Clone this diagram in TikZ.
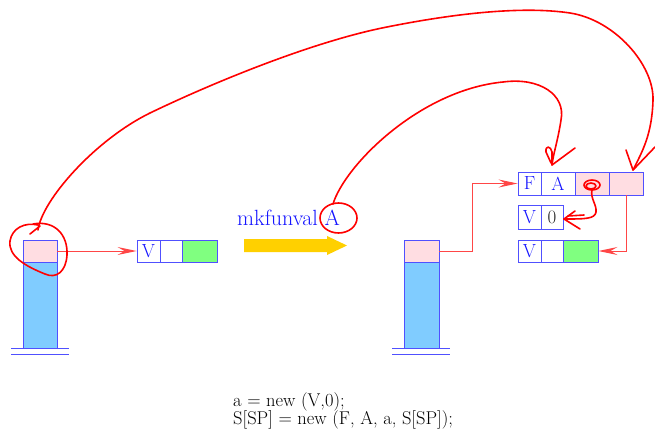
\documentclass[tikz,border=0pt]{standalone}
\usetikzlibrary{arrows.meta}
\definecolor{cellblue}{RGB}{80,80,255}
\definecolor{txtblue}{RGB}{20,20,255}
\definecolor{stackblue}{RGB}{128,204,255}
\definecolor{cellpink}{RGB}{255,221,226}
\definecolor{cellgreen}{RGB}{128,255,128}
\definecolor{conred}{RGB}{255,70,70}
\definecolor{penred}{RGB}{255,0,0}
\definecolor{arrowyellow}{RGB}{255,208,0}
\tikzset{
  cell/.style={draw=cellblue, line width=0.9pt, minimum height=22pt, inner sep=0pt,
    font=\fontsize{19}{19}\selectfont, text=txtblue},
  pinkcell/.style={cell, fill=cellpink},
  greencell/.style={cell, fill=cellgreen},
  stackbody/.style={cell, fill=stackblue},
  baseline/.style={draw=cellblue, line width=0.9pt},
  con/.style={draw=conred, line width=1pt, -{Stealth[length=19pt,width=8pt,inset=7pt]}},
  pen/.style={draw=penred, line width=1.6pt, line cap=round, line join=round},
}
\begin{document}
\begin{tikzpicture}[x=1pt,y=-1pt]
\useasboundingbox (0,0) rectangle (655,442);

% left stack
\node[pinkcell, minimum width=34pt] (lsp) at (40,251) {};
\node[stackbody, minimum width=34pt, minimum height=86pt] (lsb) at (40,305) {};
\draw[baseline] (11,348) -- (69,348);
\draw[baseline] (11,354) -- (69,354);

% left V box
\node[cell, minimum width=23pt] (lV) at (148.5,251) {V};
\node[cell, minimum width=22pt] (lE) at (171,251) {};
\node[greencell, minimum width=35pt] (lG) at (199.5,251) {};

% middle label and yellow arrow
\node[anchor=base west, inner sep=0pt, text=txtblue, font=\fontsize{22}{22}\selectfont] (mk) at (237,225) {mkfunval A};
\fill[arrowyellow] (244,239) -- (327,239) -- (327,236) -- (347,245.5) -- (327,255) -- (327,252) -- (244,252) -- cycle;

% right stack
\node[pinkcell, minimum width=35pt] (rsp) at (421.5,251) {};
\node[stackbody, minimum width=35pt, minimum height=86pt] (rsb) at (421.5,305) {};
\draw[baseline] (392,348) -- (450,348);
\draw[baseline] (392,354) -- (450,354);

% FA box
\node[cell, minimum width=23pt, minimum height=23pt] (F) at (529.5,183.5) {F};
\node[cell, minimum width=34pt, minimum height=23pt] (A) at (558,183.5) {A};
\node[pinkcell, minimum width=34pt, minimum height=23pt] (p1) at (592,183.5) {};
\node[pinkcell, minimum width=34pt, minimum height=23pt] (p2) at (626,183.5) {};

% V0 box
\node[cell, minimum width=23pt, minimum height=24pt] (zV) at (529.5,217) {V};
\node[cell, minimum width=22pt, minimum height=24pt, text=black!85] (z0) at (552,217) {0};

% V green box
\node[cell, minimum width=23pt] (gV) at (529.5,251) {V};
\node[cell, minimum width=22pt] (gE) at (552,251) {};
\node[greencell, minimum width=35pt] (gG) at (580.5,251) {};

% connectors
\draw[con] (lsp.east) -- (lV.west);
\draw[con] (rsp.east) -- ++(33,0) |- (F.west);
\draw[con] (p2.south) |- (gG.east);

% code
\node[anchor=base west, inner sep=0pt, font=\fontsize{18.5}{18.5}\selectfont] (c1) at (233,406) {a = new (V,0);};
\node[anchor=base west, inner sep=0pt, font=\fontsize{18.5}{18.5}\selectfont] (c2) at (233,424) {S[SP] = new (F, A, a, S[SP]);};

% hand-drawn annotations
% left circle
\draw[pen] (33,224) .. controls (55,220) and (68,235) .. (67,255)
  .. controls (66,272) and (56,279) .. (45,274)
  .. controls (25,266) and (8,256) .. (10,241)
  .. controls (12,228) and (25,222) .. (38,225);
\draw[pen] (30,234) -- (40,226);
% big curve to last cell
\draw[pen] (38,230) .. controls (42,200) and (95,140) .. (150,113)
  .. controls (225,77) and (320,40) .. (387,27)
  .. controls (450,14.4) and (520,5.5) .. (570,13)
  .. controls (615,20) and (654,65) .. (653,100)
  .. controls (652,135) and (642,152) .. (633,170);
\draw[pen] (626,150) -- (633,170) -- (655,147);
% circle round A
\draw[pen] (338.5,218) ellipse[x radius=18.5, y radius=15];
% curve from A to A cell
\draw[pen] (333,204) .. controls (345,165) and (420,90) .. (503,82)
  .. controls (540,77) and (566,95) .. (561,120)
  .. controls (558,140) and (553,155) .. (552,165);
\draw[pen] (551,163) -- (546,152) .. controls (545,145) and (551,146) .. (552,152) -- (552,165) -- (575,148);
% spiral and arrow to 0
\draw[pen] (592,185) ellipse[x radius=8, y radius=5];
\draw[pen] (591,186) ellipse[x radius=5, y radius=3];
\draw[pen] (592,190) .. controls (590,198) and (597,205) .. (596,212)
  .. controls (595,219) and (585,219) .. (564,219);
\draw[pen] (575,211) -- (564,219) -- (580,229);
\draw[pen] (568,216) -- (584,215);
\end{tikzpicture}
\end{document}
